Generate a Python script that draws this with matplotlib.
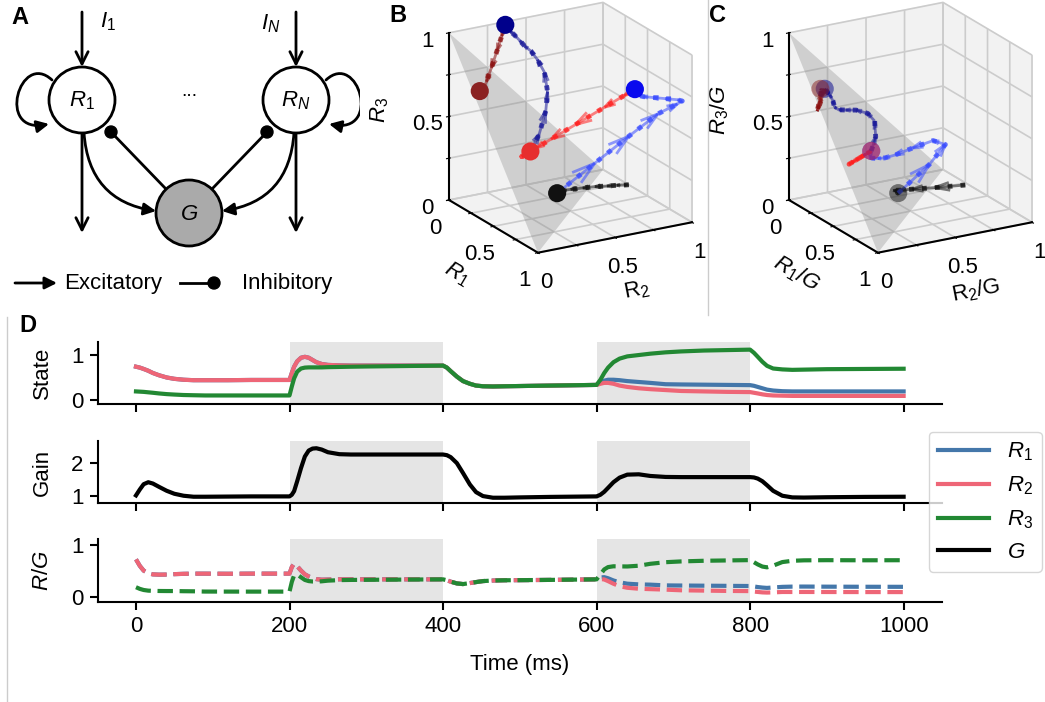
"""
Recreate the gain-control network figure (A: circuit, B/C: 3D trajectories, D: time courses)
"""

import numpy as np
import matplotlib

matplotlib.use("Agg")
import matplotlib.pyplot as plt
from matplotlib.lines import Line2D
from matplotlib.patches import Circle, FancyArrowPatch
from matplotlib.path import Path
from mpl_toolkits.mplot3d import proj3d
from mpl_toolkits.mplot3d.art3d import Poly3DCollection

plt.rcParams["font.family"] = ["Liberation Sans", "DejaVu Sans"]
plt.rcParams["mathtext.fontset"] = "custom"
plt.rcParams["mathtext.rm"] = "Liberation Sans"
plt.rcParams["mathtext.it"] = "Liberation Sans:italic"
plt.rcParams["mathtext.bf"] = "Liberation Sans:bold"
plt.rcParams["font.size"] = 16
plt.rcParams["axes.linewidth"] = 1.5

# time courses
time_ms = [0, 5, 10, 16, 22, 30, 40, 50, 62, 75, 90, 120, 150, 180, 200,
           203, 206, 210, 215, 220, 225, 230, 235, 242, 250, 265, 280, 300, 350, 400,
           405, 410, 418, 426, 435, 443, 452, 465, 480, 500, 540, 600,
           605, 610, 615, 622, 630, 640, 655, 670, 690, 710, 740, 770, 800,
           805, 810, 816, 822, 830, 842, 855, 870, 900, 950, 1000]
r1 = [0.74, 0.72, 0.69, 0.65, 0.60, 0.55, 0.50, 0.47, 0.45, 0.44, 0.44, 0.44, 0.445, 0.445, 0.445,
      0.60, 0.74, 0.86, 0.94, 0.96, 0.94, 0.89, 0.84, 0.80, 0.78, 0.77, 0.765, 0.765, 0.765, 0.765,
      0.72, 0.64, 0.52, 0.42, 0.36, 0.32, 0.305, 0.30, 0.305, 0.31, 0.32, 0.335,
      0.39, 0.43, 0.45, 0.45, 0.44, 0.42, 0.40, 0.38, 0.35, 0.345, 0.34, 0.335, 0.33,
      0.315, 0.29, 0.26, 0.23, 0.21, 0.195, 0.19, 0.19, 0.19, 0.19, 0.19]
r2 = [0.74, 0.72, 0.69, 0.65, 0.60, 0.55, 0.50, 0.47, 0.45, 0.44, 0.44, 0.44, 0.445, 0.445, 0.445,
      0.60, 0.74, 0.86, 0.94, 0.96, 0.94, 0.89, 0.84, 0.80, 0.78, 0.77, 0.765, 0.765, 0.765, 0.765,
      0.72, 0.64, 0.52, 0.42, 0.36, 0.32, 0.305, 0.30, 0.305, 0.31, 0.32, 0.335,
      0.36, 0.38, 0.38, 0.36, 0.32, 0.29, 0.26, 0.24, 0.22, 0.20, 0.19, 0.18, 0.175,
      0.16, 0.145, 0.125, 0.11, 0.10, 0.095, 0.09, 0.09, 0.09, 0.09, 0.09]
r3 = [0.19, 0.185, 0.18, 0.17, 0.16, 0.145, 0.13, 0.12, 0.11, 0.105, 0.10, 0.10, 0.10, 0.10, 0.10,
      0.30, 0.48, 0.63, 0.70, 0.72, 0.725, 0.725, 0.725, 0.725, 0.73, 0.735, 0.74, 0.745, 0.755, 0.765,
      0.72, 0.64, 0.52, 0.42, 0.36, 0.32, 0.305, 0.30, 0.305, 0.31, 0.32, 0.335,
      0.45, 0.60, 0.72, 0.84, 0.92, 0.97, 1.00, 1.03, 1.06, 1.08, 1.10, 1.11, 1.12,
      1.05, 0.96, 0.85, 0.76, 0.70, 0.68, 0.67, 0.675, 0.685, 0.69, 0.695]
gain = [1.02, 1.20, 1.36, 1.42, 1.38, 1.28, 1.16, 1.07, 1.01, 0.98, 0.98, 0.985, 0.99, 0.99, 0.99,
        1.04, 1.15, 1.45, 1.85, 2.20, 2.38, 2.44, 2.45, 2.41, 2.33, 2.27, 2.26, 2.26, 2.26, 2.26,
        2.24, 2.18, 2.00, 1.70, 1.35, 1.12, 1.00, 0.95, 0.95, 0.96, 0.975, 0.99,
        1.04, 1.13, 1.25, 1.42, 1.56, 1.65, 1.66, 1.61, 1.58, 1.575, 1.575, 1.575, 1.575,
        1.565, 1.53, 1.45, 1.33, 1.16, 1.01, 0.96, 0.955, 0.965, 0.975, 0.98]

epoch_edges = [0, 200, 400, 600, 800, 1000]
stim_windows = [(200, 400), (600, 800)]
legend_labels = [r"$R_1$", r"$R_2$", r"$R_3$", r"$G$"]

series_colors = ["#4477AA", "#EE6677", "#228833", "black"]
epoch_line_colors = ["#111111", "#3a4dff", "#ff2020", "#1a1a99", "#8b1010"]
epoch_dot_colors = ["#111111", "#0a0aee", "#e62e2e", "#00008b", "#8b2222"]

t = np.array(time_ms, dtype=float)
R = np.array([r1, r2, r3])
G = np.array(gain)
RG = R / G

W, H = 1045, 702
fig = plt.figure(figsize=(W / 100, H / 100), dpi=100)


def px_axes(left, top, width, height, **kw):
    return fig.add_axes([left / W, 1 - (top + height) / H, width / W, height / H], **kw)


# ---------------- panel A: circuit diagram ----------------
axA = px_axes(0, 0, 360, 300)
axA.set_xlim(0, 360)
axA.set_ylim(300, 0)
axA.axis("off")

node_r = 33
for (cx, cy), fc in [((82, 100), "white"), ((296, 100), "white"), ((189, 213), "#aaaaaa")]:
    axA.add_patch(Circle((cx, cy), node_r, fc=fc, ec="black", lw=2, zorder=3))
axA.text(82, 101, r"$R_\mathit{1}$", ha="center", va="center", fontsize=16, zorder=4)
axA.text(296, 101, r"$R_N$", ha="center", va="center", fontsize=16, zorder=4)
axA.text(189, 214, r"$G$", ha="center", va="center", fontsize=16, zorder=4)
axA.text(189, 92, "...", ha="center", va="center", fontsize=14)
axA.text(108, 22, r"$I_\mathit{1}$", ha="center", va="center", fontsize=16)
axA.text(271, 24, r"$I_N$", ha="center", va="center", fontsize=16)


def arrow(p0, p1, style="-|>", rad=0.0, ms=18):
    axA.add_patch(FancyArrowPatch(p0, p1, arrowstyle=style, mutation_scale=ms, lw=2,
                                  color="black", shrinkA=0, shrinkB=0,
                                  connectionstyle=f"arc3,rad={rad}", zorder=2))


def inhib(p0, p1):
    axA.plot([p0[0], p1[0]], [p0[1], p1[1]], color="black", lw=2, zorder=2)
    axA.add_patch(Circle(p1, 6, color="black", zorder=4))


# inputs and outputs
for x in (82, 296):
    arrow((x, 12), (x, 67), style="->", ms=22)
    arrow((x, 133), (x, 233), style="->", ms=22)
# excitatory drive to G
arrow((84, 133), (156, 211), rad=0.4)
arrow((294, 133), (222, 211), rad=-0.4)
# inhibitory feedback from G
inhib((166, 189), (111, 132))
inhib((212, 189), (267, 132))
# self excitation loops
loop_codes = [Path.MOVETO, Path.CURVE4, Path.CURVE4, Path.CURVE4]
for verts in ([(52, 80), (20, 50), (-5, 135), (49, 124)],
              [(326, 80), (358, 50), (383, 135), (329, 124)]):
    axA.add_patch(FancyArrowPatch(path=Path(verts, loop_codes), arrowstyle="-|>",
                                  mutation_scale=18, lw=2, color="black", zorder=2))
# key
arrow((15, 283), (57, 283))
axA.text(64, 283, "Excitatory", ha="left", va="center", fontsize=16)
inhib((180, 283), (214, 283))
axA.text(242, 283, "Inhibitory", ha="left", va="center", fontsize=16)


# ---------------- panels B and C: trajectories ----------------
cube_ticks = [0, 0.25, 0.5, 0.75, 1]
cube_ticklabels = ["0", "", "0.5", "", "1"]


def draw_cube(ax, xs, ys, zs, labels, dot_alpha):
    ax.set_proj_type("ortho")
    ax.view_init(elev=20, azim=-30)
    ax.set_box_aspect((1, 1, 1))
    ax.set_xlim(0, 1)
    ax.set_ylim(0, 1)
    ax.set_zlim(0, 1)
    for axis in (ax.xaxis, ax.yaxis, ax.zaxis):
        axis.set_ticks(cube_ticks)
        axis.set_ticklabels(cube_ticklabels)
        axis.set_pane_color((0.95, 0.95, 0.95, 1.0))
        axis._axinfo["grid"].update(color="0.8", linewidth=1.2)
        axis.line.set_color("black")
        axis.line.set_linewidth(1.5)
    ax.tick_params(labelsize=16, pad=2)
    ax.set_xlabel(labels[0], fontsize=16, labelpad=6)
    ax.set_ylabel(labels[1], fontsize=16, labelpad=6)
    ax.set_zlabel(labels[2], fontsize=16, labelpad=11)

    tri = Poly3DCollection([[(1, 0, 0), (0, 1, 0), (0, 0, 1)]], facecolor="0.5",
                           alpha=0.3, edgecolor="none")
    ax.add_collection3d(tri)

    for k in range(5):
        m = (t >= epoch_edges[k]) & (t <= epoch_edges[k + 1])
        x, y, z = xs[m], ys[m], zs[m]
        ax.plot(x, y, z, ":", color=epoch_line_colors[k], lw=3.5, alpha=0.8)
        ax.quiver(x[:-1], y[:-1], z[:-1], np.diff(x), np.diff(y), np.diff(z),
                  color=epoch_line_colors[k], alpha=0.55, lw=2, arrow_length_ratio=0.5)
    for k in range(5):
        m = (t >= epoch_edges[k]) & (t <= epoch_edges[k + 1])
        ax.scatter(xs[m][-1], ys[m][-1], zs[m][-1], s=170, color=epoch_dot_colors[k],
                   alpha=dot_alpha, depthshade=False, zorder=5, edgecolor="none")


def zaxis_to_left(ax):
    # pick whichever z-axis edge is drawn furthest left
    best_pos, best_x = None, None
    for pos in ("lower", "upper"):
        ax.zaxis.set_ticks_position(pos)
        ax.zaxis.set_label_position(pos)
        fig.canvas.draw()
        xy = np.column_stack([ax.zaxis.line.get_xdata(), ax.zaxis.line.get_ydata()])
        x_disp = ax.transData.transform(xy)[:, 0].mean()
        if best_x is None or x_disp < best_x:
            best_pos, best_x = pos, x_disp
    ax.zaxis.set_ticks_position(best_pos)
    ax.zaxis.set_label_position(best_pos)


def fit_cube(ax, origin_px, corner_px):
    # scale/shift the 3D box so that (0,0,0) and (1,1,0) land on the target pixels
    for _ in range(2):
        fig.canvas.draw()
        pts = []
        for p in [(0, 0, 0), (1, 1, 0)]:
            x2, y2, _ = proj3d.proj_transform(*p, ax.M)
            X, Y = ax.transData.transform((x2, y2))
            pts.append((X, H - Y))
        bb = ax.get_position()
        cx, cy = (bb.x0 + bb.x1) / 2 * W, H - (bb.y0 + bb.y1) / 2 * H
        size = bb.width * W
        f = (corner_px[0] - origin_px[0]) / (pts[1][0] - pts[0][0])
        ncx = origin_px[0] - f * (pts[0][0] - cx)
        ncy = origin_px[1] - f * (pts[0][1] - cy)
        ns = size * f
        ax.set_position([(ncx - ns / 2) / W, 1 - (ncy + ns / 2) / H, ns / W, ns / H])


axB = px_axes(420, -20, 300, 300, projection="3d", computed_zorder=False)
draw_cube(axB, R[0], R[1], R[2], [r"$R_1$", r"$\mathrm{R_2}$", r"$R_3$"], 1.0)
axC = px_axes(760, -20, 300, 300, projection="3d", computed_zorder=False)
draw_cube(axC, RG[0], RG[1], RG[2], [r"$R_1/G$", r"$\mathrm{R_2/G}$", r"$R_3/G$"], 0.5)

# ---------------- panel D: time courses ----------------
ax_state = px_axes(97.6, 342, 844.4, 62)
ax_gain = px_axes(97.6, 441, 844.4, 62)
ax_ratio = px_axes(97.6, 539, 844.4, 63)

for ax in (ax_state, ax_gain, ax_ratio):
    for a, b in stim_windows:
        ax.axvspan(a, b, color="#e5e5e5", lw=0, zorder=0)
    ax.spines["top"].set_visible(False)
    ax.spines["right"].set_visible(False)
    ax.set_xlim(-50, 1050)
    ax.set_xticks(range(0, 1001, 200))
    ax.tick_params(length=6, width=1.5, pad=4, labelsize=16)
    ax.yaxis.set_label_coords(-0.053, 0.5)

for i in range(3):
    ax_state.plot(t, R[i], color=series_colors[i], lw=3)
    ax_ratio.plot(t, RG[i], "--", color=series_colors[i], lw=3)
ax_gain.plot(t, G, color=series_colors[3], lw=3)

ax_state.set_ylim(-0.09, 1.29)
ax_state.set_yticks([0, 1])
ax_state.set_ylabel("State")
ax_state.set_xticklabels([])
ax_gain.set_ylim(0.79, 2.67)
ax_gain.set_yticks([1, 2])
ax_gain.set_ylabel("Gain")
ax_gain.set_xticklabels([])
ax_ratio.set_ylim(-0.1, 1.12)
ax_ratio.set_yticks([0, 1])
ax_ratio.set_ylabel(r"$R/G$")
ax_ratio.set_xlabel("Time (ms)", labelpad=12)

handles = [Line2D([], [], color=c, lw=3) for c in series_colors]
fig.legend(handles, legend_labels, loc="upper left", bbox_to_anchor=(929 / W, 1 - 432 / H),
           handlelength=2.3, fontsize=16, labelspacing=0.5, borderaxespad=0)

# panel letters and separators
for letter, (x, y) in {"A": (20, 18), "B": (398, 16), "C": (717, 16), "D": (28, 325)}.items():
    fig.text(x / W, 1 - y / H, letter, fontsize=17, weight="bold", ha="center", va="center")
fig.add_artist(Line2D([708 / W, 708 / W], [1, 1 - 315 / H], color="0.8", lw=1))
fig.add_artist(Line2D([7 / W, 7 / W], [1 - 317 / H, 0], color="0.8", lw=1))

zaxis_to_left(axB)
zaxis_to_left(axC)
fit_cube(axB, (449, 200), (692, 223))
fit_cube(axC, (789, 200), (1032, 223))

fig.savefig("out.png", dpi=100)
